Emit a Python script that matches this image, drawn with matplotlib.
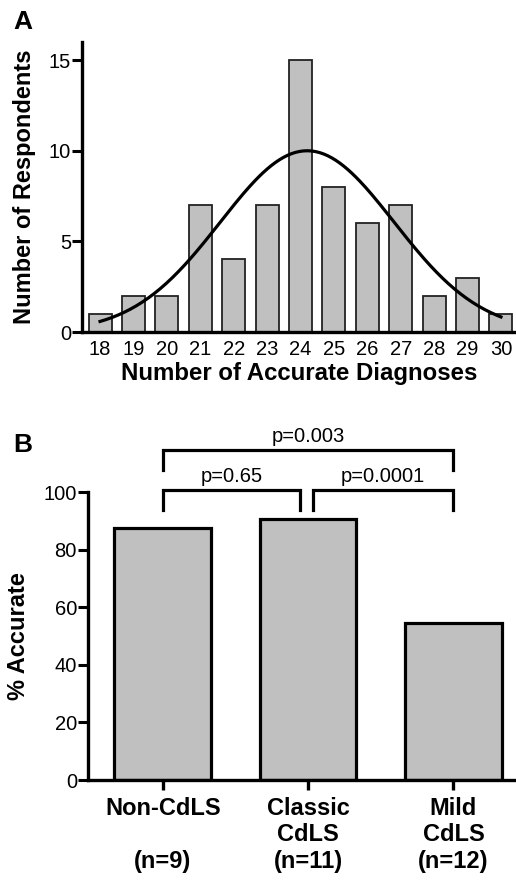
import numpy as np
import matplotlib
matplotlib.use("Agg")
import matplotlib.pyplot as plt

plt.rcParams['font.family'] = ['Liberation Sans', 'DejaVu Sans']

# panel A data
diagnoses = [18, 19, 20, 21, 22, 23, 24, 25, 26, 27, 28, 29, 30]
respondents = [1, 2, 2, 7, 4, 7, 15, 8, 6, 7, 2, 3, 1]
# gaussian fit
fit_mean = 24.2
fit_sd = 2.6
fit_peak = 10.0

# panel B data
groups = ["Non-CdLS\n\n(n=9)", "Classic\nCdLS\n(n=11)", "Mild\nCdLS\n(n=12)"]
pct_accurate = [87.5, 90.6, 54.4]
comparisons = [(0, 1, "p=0.65"), (1, 2, "p=0.0001"), (0, 2, "p=0.003")]

grey = "#c0c0c0"
W, H = 516, 888
fig = plt.figure(figsize=(W / 100, H / 100), dpi=100)

# ---- panel A ----
axA = fig.add_axes([82 / W, (H - 332) / H, 1 - 82 / W, 290 / H])
axA.bar(diagnoses, respondents, width=0.69, color=grey, edgecolor="#222222", linewidth=1.3)
xs = np.linspace(diagnoses[0], diagnoses[-1], 200)
axA.plot(xs, fit_peak * np.exp(-0.5 * ((xs - fit_mean) / fit_sd) ** 2), color="black", lw=2.3)
axA.set_xlim(17.46, 30.45)
axA.set_ylim(0, 16)
axA.set_yticks([0, 5, 10, 15])
axA.set_xticks(diagnoses)
axA.tick_params(axis="y", length=7, width=2.2, pad=1, labelsize=14.5, color="black")
axA.tick_params(axis="x", length=0, pad=6, labelsize=14.5)
for s in ["top", "right"]:
    axA.spines[s].set_visible(False)
for s in ["left", "bottom"]:
    axA.spines[s].set_linewidth(2.4)
axA.set_xlabel("Number of Accurate Diagnoses", fontsize=17.3, fontweight="bold", labelpad=2)
axA.set_ylabel("Number of Respondents", fontsize=17, fontweight="bold", labelpad=9)
fig.text(23 / W, 1 - 22 / H, "A", fontsize=19, fontweight="bold", ha="center", va="center")

# ---- panel B ----
axB = fig.add_axes([88 / W, (H - 780) / H, 1 - 88 / W, 288 / H])
xpos = np.arange(len(groups))
axB.bar(xpos, pct_accurate, width=0.665, color=grey, edgecolor="black", linewidth=2.3)
axB.set_xlim(-0.514, 2.43)
axB.set_ylim(0, 100)
axB.set_yticks([0, 20, 40, 60, 80, 100])
axB.set_xticks(xpos)
axB.set_xticklabels(groups, fontweight="bold", fontsize=17)
axB.tick_params(axis="y", length=7, width=2.2, pad=1, labelsize=14.5)
axB.tick_params(axis="x", length=7, width=2.4, pad=5)
for s in ["top", "right"]:
    axB.spines[s].set_visible(False)
for s in ["left", "bottom"]:
    axB.spines[s].set_linewidth(2.4)
axB.set_ylabel("% Accurate", fontsize=17, fontweight="bold", labelpad=10)
fig.text(23 / W, 1 - 445 / H, "B", fontsize=19, fontweight="bold", ha="center", va="center")

# significance brackets
for i, j, label in comparisons:
    if j - i == 2:
        top, leg = 114.6, 107.6
        x0, x1 = i, j
    else:
        top, leg = 100.7, 93.8
        x0 = i + (0.034 if i > 0 else 0)
        x1 = j - (0.055 if j == 1 else 0)
    axB.plot([x0, x0, x1, x1], [leg, top, top, leg], color="black", lw=2.3,
             clip_on=False, solid_joinstyle="miter")
    axB.text((x0 + x1) / 2, top + 1.5, label, ha="center", va="bottom", fontsize=14.5)

fig.savefig("out.png", dpi=100)
